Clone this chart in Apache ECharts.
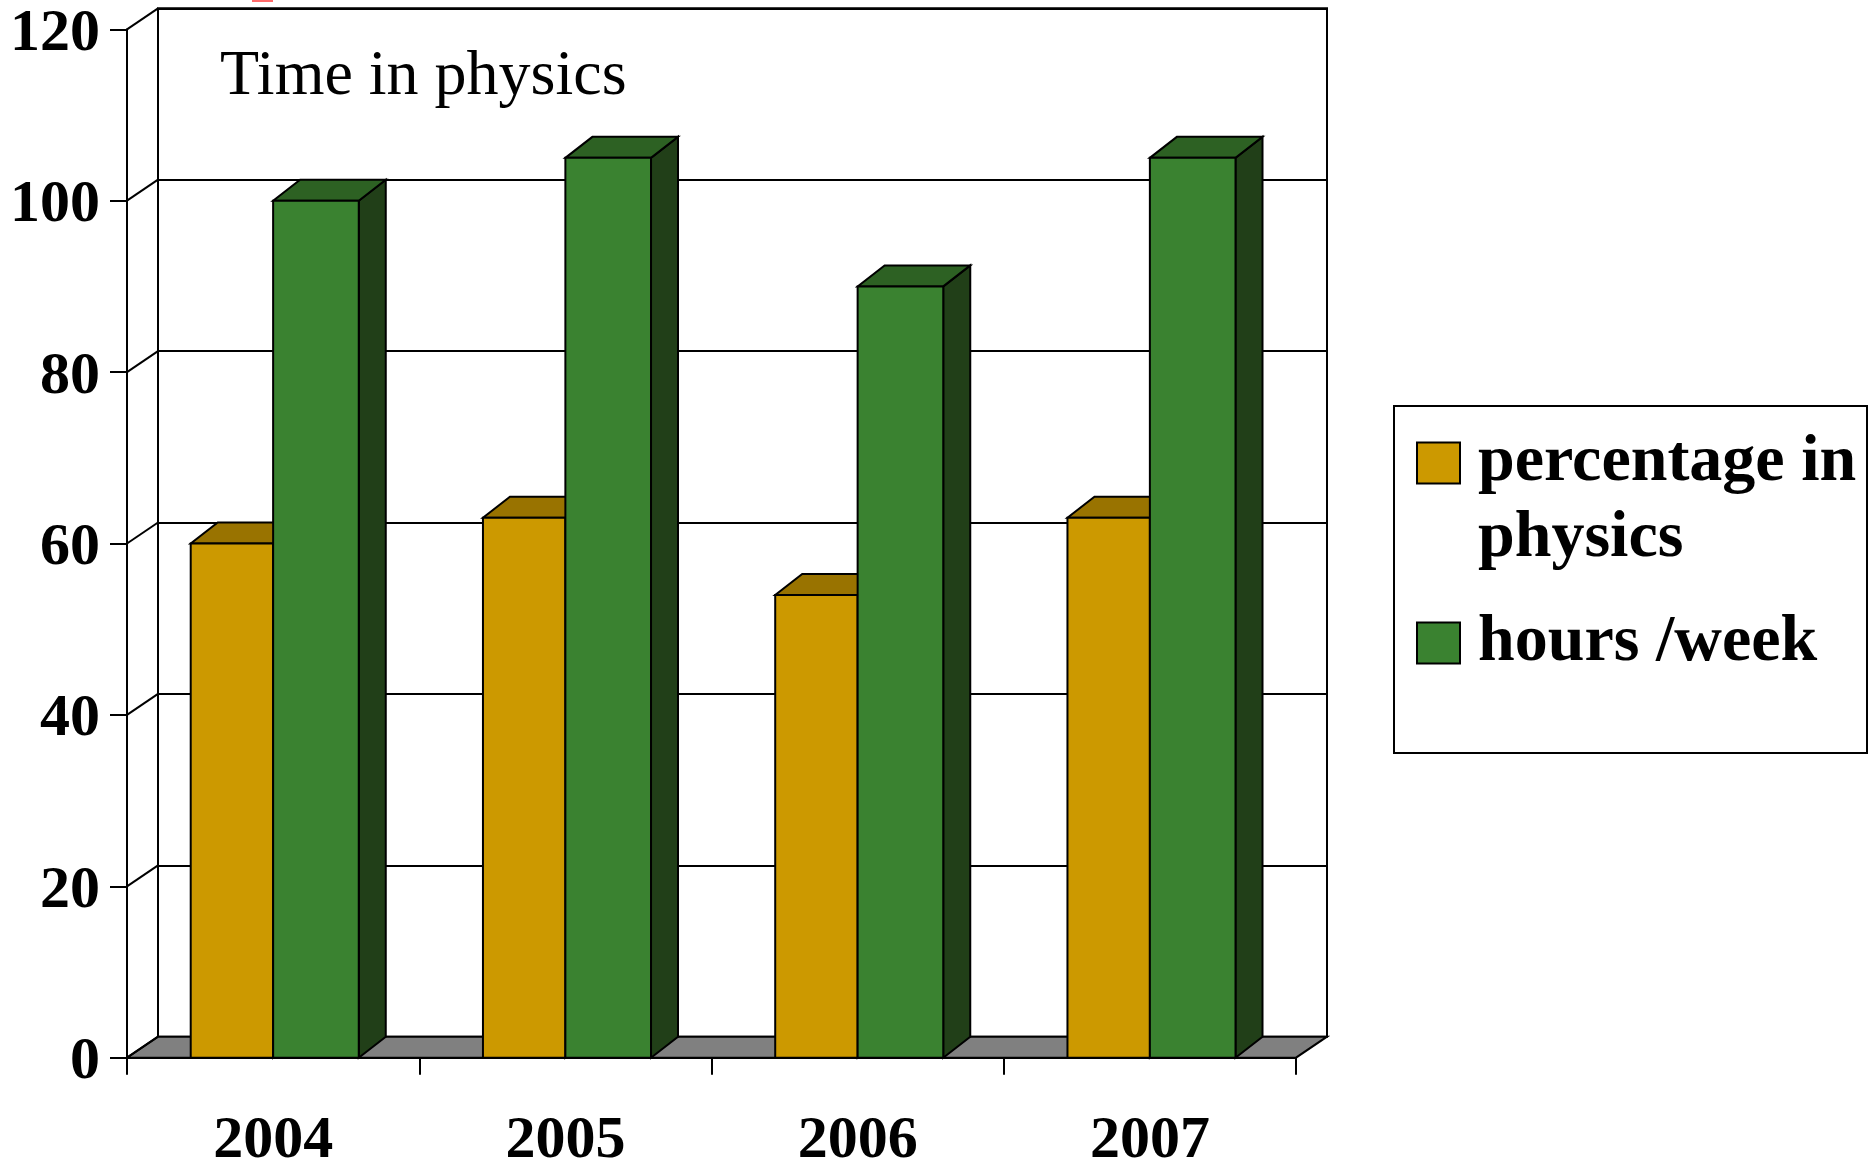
<!DOCTYPE html>
<html>
<head>
<meta charset="utf-8">
<title>Time in physics</title>
<script src="https://cdn.jsdelivr.net/npm/echarts@6/dist/echarts.min.js"></script>
<style>
  html, body { margin: 0; padding: 0; background: #ffffff; }
  #chart { width: 1870px; height: 1162px; }
</style>
</head>
<body>
<div id="chart"></div>
<script>
// ---- data ----
const years = ['2004', '2005', '2006', '2007'];
const percentageInPhysics = [60, 63, 54, 63];
const hoursPerWeek = [100, 105, 90, 105];
const yTicks = [0, 20, 40, 60, 80, 100, 120];
const seriesNames = ['percentage in physics', 'hours /week'];

// ---- styling ----
const FONT = "'Liberation Serif', 'Times New Roman', serif";
const WALL_DX = 31, WALL_DY = -21;   // depth of the back wall
const BAR_DX = 27, BAR_DY = -21;     // depth of each column
const LINE = 2;

const palettes = [
  { front: '#CC9900', top: '#997300', side: '#6B5100' },
  { front: '#3A8230', top: '#2D6123', side: '#213F18' }
];
// left/right edge of each column's front face, as a fraction of the category band from its centre
const barSpans = [[-0.282, 0], [0, 0.293]];

const FRONT = { left: 127, top: 29.3, right: 1870 - 1296, bottom: 1162 - 1057.7 };
const BACK = {
  left: FRONT.left + WALL_DX,
  top: FRONT.top + WALL_DY,
  right: FRONT.right - WALL_DX,
  bottom: FRONT.bottom - WALL_DY
};

function columnRenderer(idx) {
  const pal = palettes[idx];
  const span = barSpans[idx];
  return function (params, api) {
    const cat = api.value(0);
    const val = api.value(1);
    const base = api.coord([cat, 0]);
    const head = api.coord([cat, val]);
    const band = api.size([1, 0])[0];
    const x0 = base[0] + span[0] * band;
    const x1 = base[0] + span[1] * band;
    const yb = base[1], yt = head[1];
    const edge = { stroke: '#000', lineWidth: LINE, lineJoin: 'miter' };
    return {
      type: 'group',
      children: [
        { type: 'polygon',
          shape: { points: [[x1, yb], [x1 + BAR_DX, yb + BAR_DY], [x1 + BAR_DX, yt + BAR_DY], [x1, yt]] },
          style: Object.assign({ fill: pal.side }, edge) },
        { type: 'polygon',
          shape: { points: [[x0, yt], [x1, yt], [x1 + BAR_DX, yt + BAR_DY], [x0 + BAR_DX, yt + BAR_DY]] },
          style: Object.assign({ fill: pal.top }, edge) },
        { type: 'rect',
          shape: { x: x0, y: yt, width: x1 - x0, height: yb - yt },
          style: Object.assign({ fill: pal.front }, edge) }
      ]
    };
  };
}

const chart = echarts.init(document.getElementById('chart'), null, { renderer: 'canvas' });

chart.setOption({
  animation: false,
  backgroundColor: '#ffffff',
  title: {
    text: 'Time in physics',
    left: 220,
    top: 45,
    padding: 0,
    textStyle: { fontFamily: FONT, fontSize: 64, fontWeight: 'normal', color: '#000', lineHeight: 64 }
  },
  grid: [
    { left: FRONT.left, top: FRONT.top, right: FRONT.right, bottom: FRONT.bottom,
      containLabel: false, outerBoundsMode: 'none' },
    { left: BACK.left, top: BACK.top, right: BACK.right, bottom: BACK.bottom,
      containLabel: false, outerBoundsMode: 'none',
      show: true, borderColor: '#000', borderWidth: LINE, backgroundColor: 'transparent', z: 0 }
  ],
  xAxis: [
    {
      gridIndex: 0,
      type: 'category',
      data: years,
      boundaryGap: true,
      axisLine: { show: true, lineStyle: { color: '#000', width: LINE } },
      axisTick: { show: true, length: 17, lineStyle: { color: '#000', width: LINE } },
      axisLabel: { margin: 54, fontFamily: FONT, fontSize: 60, fontWeight: 'bold', color: '#000' },
      splitLine: { show: false }
    },
    { gridIndex: 1, type: 'category', data: years, show: false }
  ],
  yAxis: [
    {
      gridIndex: 0,
      type: 'value',
      min: 0, max: 120, interval: 20,
      axisLine: { show: true, lineStyle: { color: '#000', width: LINE } },
      axisTick: { show: true, length: 17, lineStyle: { color: '#000', width: LINE } },
      axisLabel: {
        margin: 27, color: '#000',
        formatter: function (v) { return yTicks.indexOf(v) >= 0 ? '{v|' + v + '}' : ''; },
        rich: {
          v: { fontFamily: FONT, fontSize: 60, fontWeight: 'bold', color: '#000', padding: [10, 0, 0, 0] }
        }
      },
      splitLine: { show: false }
    },
    {
      gridIndex: 1,
      type: 'value',
      min: 0, max: 120, interval: 20,
      axisLine: { show: false },
      axisTick: { show: false },
      axisLabel: { show: false },
      splitLine: { show: true, lineStyle: { color: '#000', width: LINE, type: 'solid' } }
    }
  ],
  legend: {
    orient: 'vertical',
    left: 1416,
    top: 346,
    padding: 0,
    itemGap: 22,
    itemWidth: 43,
    itemHeight: 41,
    icon: 'rect',
    selectedMode: false,
    itemStyle: { borderColor: '#000', borderWidth: LINE },
    textStyle: { fontFamily: FONT, fontSize: 66, fontWeight: 'bold', color: '#000', lineHeight: 76,
                 padding: [6, 0, 0, 13] },
    // the first entry wraps onto two lines; a leading blank line keeps its first line level with the swatch
    formatter: function (name) { return name === seriesNames[0] ? ' \npercentage in\nphysics' : name; },
    data: [seriesNames[0], seriesNames[1]]
  },
  graphic: [
    { type: 'rect', z: 0, shape: { x: 1394, y: 406, width: 473, height: 347 },
      style: { fill: '#ffffff', stroke: '#000', lineWidth: LINE } },
    { type: 'rect', z: 0, shape: { x: 252, y: 0, width: 21, height: 2 },
      style: { fill: '#ff6a6a' } }
  ],
  series: [
    {
      // gray floor under the columns
      type: 'custom',
      name: 'floor',
      xAxisIndex: 0, yAxisIndex: 0,
      silent: true,
      z: 1,
      data: [[0, 0]],
      renderItem: function (params, api) {
        const cs = params.coordSys;
        const y = api.coord([0, 0])[1];
        const xl = cs.x, xr = cs.x + cs.width;
        return {
          type: 'polygon',
          shape: { points: [[xl, y], [xr, y], [xr + WALL_DX, y + WALL_DY], [xl + WALL_DX, y + WALL_DY]] },
          style: { fill: '#808080', stroke: '#000', lineWidth: LINE }
        };
      }
    },
    {
      // gridlines along the left side wall
      type: 'custom',
      name: 'side wall',
      xAxisIndex: 0, yAxisIndex: 0,
      silent: true,
      z: 1,
      data: yTicks.map(function (v) { return [0, v]; }),
      renderItem: function (params, api) {
        const cs = params.coordSys;
        const y = api.coord([0, api.value(1)])[1];
        return {
          type: 'line',
          shape: { x1: cs.x, y1: y, x2: cs.x + WALL_DX, y2: y + WALL_DY },
          style: { stroke: '#000', lineWidth: LINE }
        };
      }
    },
    {
      type: 'custom',
      name: seriesNames[0],
      xAxisIndex: 0, yAxisIndex: 0,
      z: 3,
      itemStyle: { color: palettes[0].front },
      encode: { x: 0, y: 1 },
      data: years.map(function (y, i) { return [i, percentageInPhysics[i]]; }),
      renderItem: columnRenderer(0)
    },
    {
      type: 'custom',
      name: seriesNames[1],
      xAxisIndex: 0, yAxisIndex: 0,
      z: 4,
      itemStyle: { color: palettes[1].front },
      encode: { x: 0, y: 1 },
      data: years.map(function (y, i) { return [i, hoursPerWeek[i]]; }),
      renderItem: columnRenderer(1)
    }
  ]
});
</script>
</body>
</html>
